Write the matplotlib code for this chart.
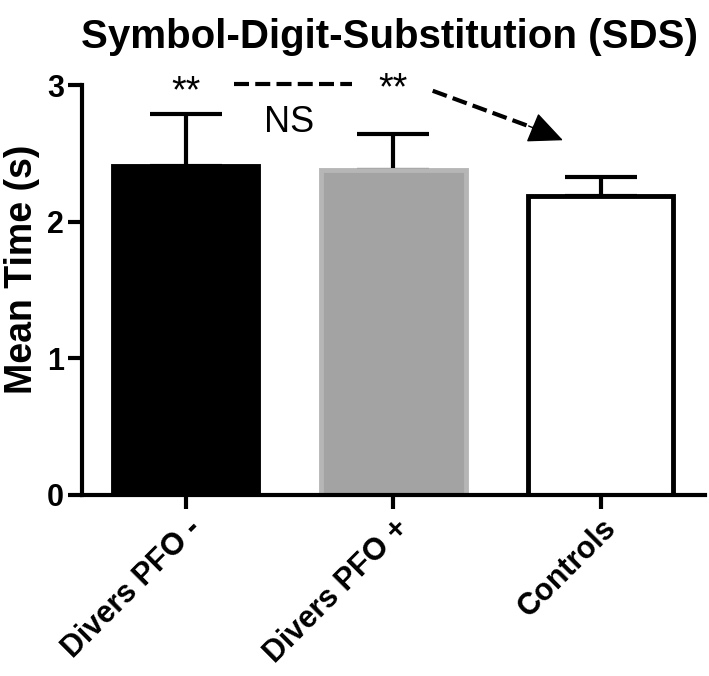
import matplotlib.pyplot as plt

plt.rcParams["font.family"] = ["Liberation Sans", "DejaVu Sans"]
plt.rcParams["font.weight"] = "bold"

groups = ["Divers PFO -", "Divers PFO +", "Controls"]
means = [2.41, 2.38, 2.19]
sem = [0.38, 0.26, 0.14]
faces = ["black", "#a3a3a3", "white"]
edges = ["black", "#b6b6b6", "black"]

fig = plt.figure(figsize=(7.09, 6.76), dpi=100)
ax = fig.add_axes([0.1157, 0.2678, 0.878, 0.606])

x = range(len(groups))
for i in x:
    ax.bar(i, means[i], width=0.7, color=faces[i], edgecolor=edges[i],
           linewidth=3.5, zorder=2)
    # upper error bar only
    ax.errorbar(i, means[i], yerr=[[0], [sem[i]]], fmt="none", ecolor="black",
                elinewidth=3, capsize=26, capthick=3, zorder=1)

# significance annotations
ax.text(0, 2.95, "**", ha="center", va="center", fontsize=27, weight="normal")
ax.text(1, 2.97, "**", ha="center", va="center", fontsize=27, weight="normal")
ax.text(0.5, 2.73, "NS", ha="center", va="center", fontsize=26, weight="normal")
ax.plot([0.23, 0.80], [3.01, 3.01], color="black", lw=3, ls=(0, (3.6, 1.5)),
        clip_on=False)
ax.plot([1.19, 1.69], [2.96, 2.68], color="black", lw=3, ls=(0, (3.6, 1.5)),
        clip_on=False)
ax.annotate("", xy=(1.83, 2.59), xytext=(1.64, 2.71),
            arrowprops=dict(arrowstyle="-|>,head_length=2.2,head_width=1.0",
                            mutation_scale=10, color="black", lw=1),
            annotation_clip=False)

ax.set_xlim(-0.5, 2.5)
ax.set_ylim(0, 3)
ax.set_yticks([0, 1, 2, 3])
ax.set_xticks(list(x))
ax.set_xticklabels(groups, rotation=45, ha="right", rotation_mode="anchor",
                   fontsize=23, weight="bold")
ax.tick_params(axis="both", width=3, length=10, labelsize=22, pad=3)
for lab in ax.get_yticklabels():
    lab.set_fontweight("bold")
ax.spines["top"].set_visible(False)
ax.spines["right"].set_visible(False)
ax.spines["left"].set_linewidth(3)
ax.spines["bottom"].set_linewidth(3)
ax.set_ylabel("Mean Time (s)", fontsize=27, weight="bold")
ax.yaxis.set_label_coords(-0.068, 0.55)
fig.text(0.55, 0.929, "Symbol-Digit-Substitution (SDS)", ha="center",
         va="baseline", fontsize=29, weight="bold")

fig.savefig("out.png", dpi=100)
